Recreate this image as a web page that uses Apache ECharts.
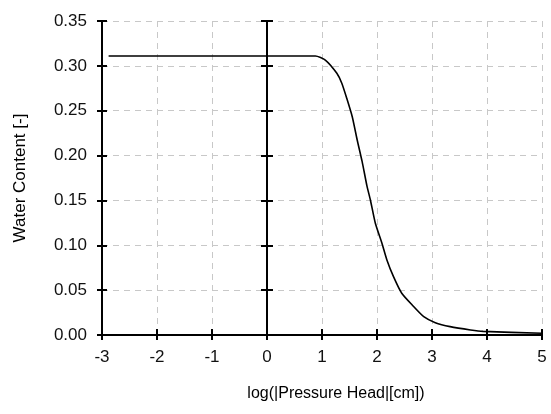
<!DOCTYPE html>
<html>
<head>
<meta charset="utf-8">
<script src="https://cdn.jsdelivr.net/npm/echarts@6/dist/echarts.min.js"></script>
<style>
  html, body { margin: 0; padding: 0; background: #fff; }
  #chart { width: 551px; height: 414px; }
</style>
</head>
<body>
<div id="chart"></div>
<script>
// log10 of |pressure head| in cm, and the water content
const logH = [-2.88, 0.88, 1.06, 1.27, 1.36, 1.45, 1.55, 1.64, 1.73, 1.82, 1.88, 1.97, 2.09, 2.18, 2.30, 2.45, 2.64, 2.85, 3.06, 3.33, 3.70, 3.93, 5.0];
const theta = [0.311, 0.311, 0.3065, 0.2917, 0.2806, 0.2638, 0.2433, 0.2174, 0.1932, 0.1653, 0.1505, 0.1245, 0.1022, 0.0836, 0.065, 0.0465, 0.0334, 0.0204, 0.0137, 0.0093, 0.0056, 0.004, 0.002];

const xMin = -3, xMax = 5, xStep = 1;
const yMin = 0, yMax = 0.35, yStep = 0.05;

const font = '"Liberation Sans", Arial, sans-serif';
const black = '#000';
const gridColor = '#c8c8c8';

const chart = echarts.init(document.getElementById('chart'));

// plot box: left 102, right 9, top 21, bottom 79 -> 440 x 314
const plotW = 440, plotH = 314;

const baseX = { type: 'value', min: xMin, max: xMax, interval: xStep };
const baseY = { type: 'value', min: yMin, max: yMax, interval: yStep };

chart.setOption({
  animation: false,
  grid: { left: 102, right: 9, top: 21, bottom: 79 },
  xAxis: [
    {
      ...baseX,
      position: 'bottom',
      name: 'log(|Pressure Head|[cm])',
      nameLocation: 'middle',
      nameGap: 51,
      nameTextStyle: { fontFamily: font, fontSize: 16, color: black, padding: [0, 0, 0, 28] },
      axisLine: { onZero: false, lineStyle: { color: black, width: 2 } },
      axisTick: { length: 5, lineStyle: { color: black, width: 2 } },
      axisLabel: { fontFamily: font, fontSize: 17, color: '#111', margin: 14 },
      splitLine: { show: true, lineStyle: { color: gridColor, type: [6, 5], width: 1 } }
    },
    {
      // second copy of the bottom axis, ticks pointing up into the plot
      ...baseX,
      position: 'top',
      offset: -plotH,
      axisLine: { show: false, onZero: false },
      axisTick: { length: 6, lineStyle: { color: black, width: 2 } },
      axisLabel: { show: false },
      splitLine: { show: false }
    }
  ],
  yAxis: [
    {
      ...baseY,
      position: 'left',
      name: 'Water Content [-]',
      nameLocation: 'middle',
      nameGap: 73,
      nameTextStyle: { fontFamily: font, fontSize: 17, color: black },
      axisLine: { onZero: false, lineStyle: { color: black, width: 2 } },
      axisTick: { length: 5, lineStyle: { color: black, width: 2 } },
      axisLabel: { fontFamily: font, fontSize: 17, color: '#111', margin: 15, formatter: v => v.toFixed(2) },
      splitLine: { show: true, lineStyle: { color: gridColor, type: [6, 5], width: 1 } }
    },
    {
      // ticks of the left edge pointing right
      ...baseY,
      position: 'right',
      offset: -plotW,
      axisLine: { show: false, onZero: false },
      axisTick: { length: 5, lineStyle: { color: black, width: 2 } },
      axisLabel: { show: false },
      splitLine: { show: false }
    },
    {
      // the vertical line at log h = 0
      ...baseY,
      position: 'right',
      axisLine: { show: true, onZero: true, onZeroAxisIndex: 0, lineStyle: { color: black, width: 2 } },
      axisTick: { length: 6, lineStyle: { color: black, width: 2 } },
      axisLabel: { show: false },
      splitLine: { show: false }
    },
    {
      ...baseY,
      position: 'right',
      axisLine: { show: false, onZero: true, onZeroAxisIndex: 0 },
      axisTick: { inside: true, length: 6, lineStyle: { color: black, width: 2 } },
      axisLabel: { show: false },
      splitLine: { show: false }
    }
  ],
  series: [
    {
      type: 'line',
      xAxisIndex: 0,
      yAxisIndex: 0,
      data: logH.map((x, i) => [x, theta[i]]),
      showSymbol: false,
      smooth: 0.2,
      lineStyle: { color: black, width: 1.6 },
      z: 3
    }
  ]
});
</script>
</body>
</html>
